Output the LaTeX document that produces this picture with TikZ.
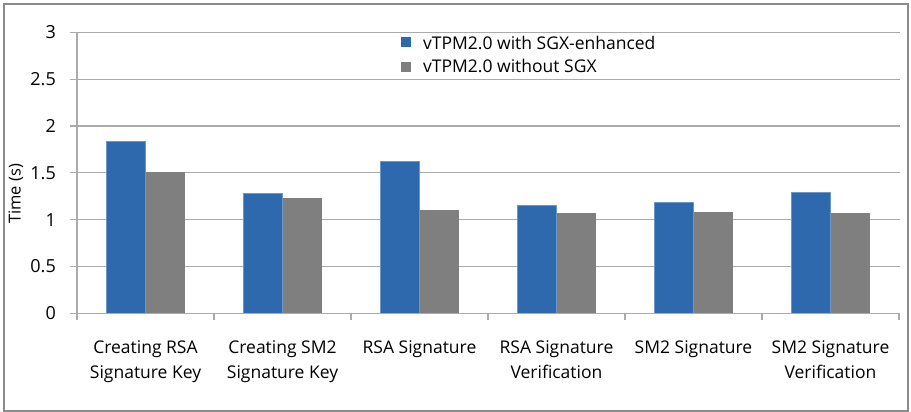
\documentclass[tikz,border=0pt]{standalone}
\usepackage{fontspec}
\setmainfont{Open Sans}
\definecolor{barblue}{HTML}{2F69AD}
\definecolor{bargray}{HTML}{7F7F7F}
\definecolor{gridc}{HTML}{ABABAB}
\definecolor{framec}{HTML}{8C8C8C}
\tikzset{
  gridline/.style={draw=gridc, line width=1.1pt},
  bluebar/.style={fill=barblue, draw=barblue!70!white, line width=0.6pt},
  graybar/.style={fill=bargray},
  ylab/.style={anchor=east, font=\fontsize{18}{19}\selectfont, inner sep=0pt},
  catlab/.style={align=center, font=\fontsize{17.5}{25}\selectfont, inner sep=0pt, anchor=north},
  legtext/.style={anchor=west, font=\fontsize{17.5}{18}\selectfont, inner sep=0pt},
}
\begin{document}
\begin{tikzpicture}[x=1pt,y=-1pt]
\useasboundingbox (0,0) rectangle (911,412);
\fill[white] (0,0) rectangle (911,412);
\draw[draw=framec, line width=2pt] (4,4) rectangle (907.5,411);
% gridlines and y labels
\foreach \v/\t in {0/0,0.5/0.5,1/1,1.5/1.5,2/2,2.5/2.5,3/3}{
  \pgfmathsetmacro\yy{313.3-\v*93.67}
  \draw[gridline] (70,\yy) -- (900,\yy);
  \node[ylab] (yl\t) at (56,\yy) {\t};
}
\draw[gridline] (77,32.3) -- (77,313.3);
% x ticks
\foreach \i in {0,...,6}{
  \pgfmathsetmacro\xx{77+137*\i}
  \draw[gridline] (\xx,313.3) -- (\xx,320);
}
% bars
\foreach \i/\b/\g in {1/1.832/1.505,2/1.284/1.228,3/1.618/1.10,4/1.153/1.071,5/1.185/1.078,6/1.292/1.067}{
  \pgfmathsetmacro\cc{77+137*(\i-0.5)}
  \pgfmathsetmacro\yb{313.3-\b*93.67}
  \pgfmathsetmacro\yg{313.3-\g*93.67}
  \fill[graybar] (\cc,\yg) rectangle (\cc+39,313.3);
  \draw[bluebar] (\cc-39,\yb) rectangle (\cc,313.3);
}
\draw[gridline] (77,313.3) -- (900,313.3);
% category labels
\node[catlab] (c1) at (145.5,340.5) {Creating RSA\\Signature Key};
\node[catlab] (c2) at (282.5,340.5) {Creating SM2\\Signature Key};
\node[catlab] (c3) at (419.5,340.5) {RSA Signature};
\node[catlab] (c4) at (556.5,340.5) {RSA Signature\\Verification};
\node[catlab] (c5) at (693.5,340.5) {SM2 Signature};
\node[catlab] (c6) at (830.5,340.5) {SM2 Signature\\Verification};
% axis title
\node[rotate=90, font=\fontsize{16.5}{18}\selectfont, inner sep=0pt] (ytitle) at (16,194) {Time (s)};
% legend
\fill[barblue] (401,37) rectangle (411,47);
\fill[bargray] (401,62) rectangle (411,72);
\node[legtext] (l1) at (423,42.5) {vTPM2.0 with SGX-enhanced};
\node[legtext] (l2) at (423,66) {vTPM2.0 without SGX};
\end{tikzpicture}
\end{document}
